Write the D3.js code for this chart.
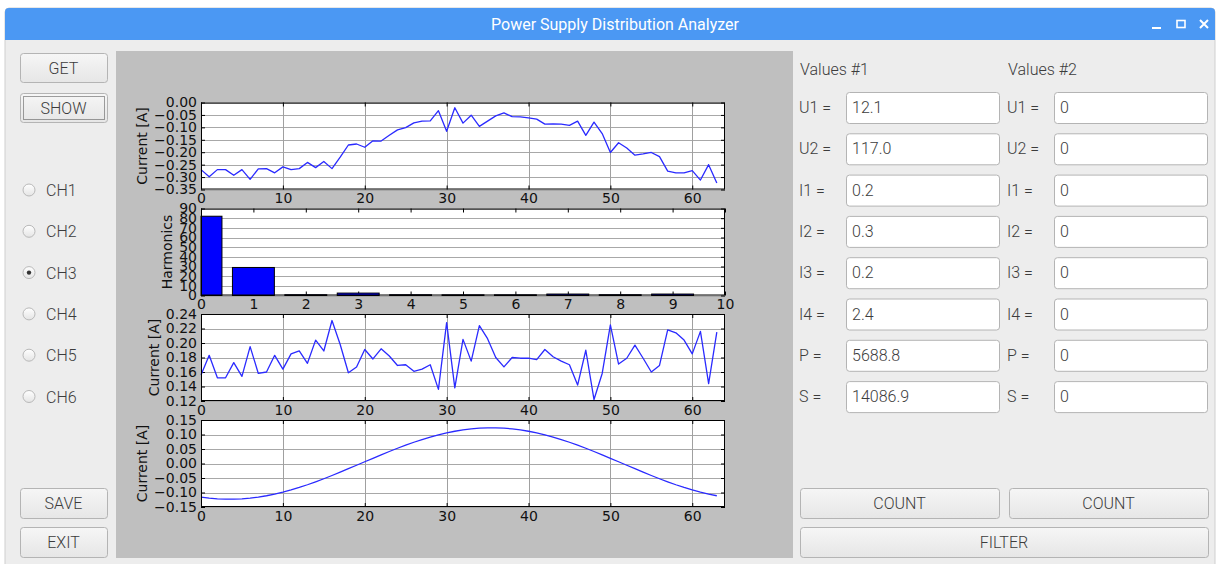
<!DOCTYPE html>
<html>
<head>
<meta charset="utf-8">
<script src="https://cdn.jsdelivr.net/npm/d3@7"></script>
<style>
body{margin:0;background:#fff;overflow:hidden}
.gui text{font-family:Roboto,"Open Sans",sans-serif;font-weight:300}
</style>
</head>
<body>
<div class="app"></div>
<script>
var width = 1217, height = 564;

// sample index of the measured waveforms
var samples = d3.range(64);
// top plot, current [A]
var currentA = [-0.270,-0.299,-0.270,-0.270,-0.293,-0.270,-0.309,-0.267,-0.266,-0.283,
	-0.259,-0.270,-0.266,-0.241,-0.262,-0.237,-0.266,-0.220,-0.171,-0.167,
	-0.180,-0.154,-0.155,-0.132,-0.110,-0.101,-0.082,-0.075,-0.074,-0.033,
	-0.116,-0.021,-0.083,-0.051,-0.096,-0.075,-0.054,-0.042,-0.057,-0.058,
	-0.062,-0.067,-0.087,-0.086,-0.087,-0.092,-0.075,-0.132,-0.079,-0.125,
	-0.201,-0.162,-0.183,-0.212,-0.207,-0.201,-0.218,-0.276,-0.283,-0.283,
	-0.274,-0.312,-0.250,-0.324];
// harmonics bars
var harmonicOrder = [0,1,2,3,4,5,6,7,8,9];
var harmonics = [82,29,0.8,2.5,0.8,0.7,0.7,1.5,0.8,1.5];
// third plot, current [A]
var currentB = [0.156,0.183,0.152,0.152,0.173,0.154,0.195,0.158,0.160,0.183,
	0.164,0.185,0.189,0.172,0.204,0.189,0.231,0.198,0.159,0.167,
	0.191,0.178,0.192,0.182,0.169,0.170,0.161,0.164,0.170,0.136,
	0.228,0.138,0.205,0.175,0.224,0.206,0.180,0.167,0.180,0.179,
	0.179,0.177,0.191,0.181,0.175,0.170,0.142,0.190,0.122,0.158,
	0.225,0.171,0.179,0.197,0.179,0.160,0.169,0.218,0.214,0.204,
	0.185,0.216,0.144,0.215];
// bottom plot, filtered current [A]
var currentC = [-0.1158,-0.1193,-0.1217,-0.1229,-0.1229,-0.1217,-0.1193,-0.1158,-0.1112,-0.1055,
	-0.0988,-0.0911,-0.0826,-0.0733,-0.0632,-0.0526,-0.0414,-0.0299,-0.0180,-0.0060,
	0.0060,0.0180,0.0299,0.0414,0.0526,0.0632,0.0733,0.0826,0.0911,0.0988,
	0.1055,0.1112,0.1158,0.1193,0.1217,0.1229,0.1229,0.1217,0.1193,0.1158,
	0.1112,0.1055,0.0988,0.0911,0.0826,0.0733,0.0632,0.0526,0.0414,0.0299,
	0.0180,0.0060,-0.0060,-0.0180,-0.0299,-0.0414,-0.0526,-0.0632,-0.0733,-0.0826,
	-0.0911,-0.0988,-0.1055,-0.1112];

// tick values
var sampleTicks = [0,10,20,30,40,50,60];
var harmonicTicks = [0,1,2,3,4,5,6,7,8,9,10];
var yTicksA = [0,-0.05,-0.10,-0.15,-0.20,-0.25,-0.30,-0.35];
var yTicksH = [0,10,20,30,40,50,60,70,80,90];
var yTicksB = [0.12,0.14,0.16,0.18,0.20,0.22,0.24];
var yTicksC = [-0.15,-0.10,-0.05,0,0.05,0.10,0.15];

// right panel
var valueNames = ["U1 =","U2 =","I1 =","I2 =","I3 =","I4 =","P =","S ="];
var values1 = ["12.1","117.0","0.2","0.3","0.2","2.4","5688.8","14086.9"];
var values2 = ["0","0","0","0","0","0","0","0"];
var channels = ["CH1","CH2","CH3","CH4","CH5","CH6"];
var selected = "CH3";

var svg = d3.select(".app").append("svg").attr("width", width).attr("height", height);
var defs = svg.append("defs");
var bg = defs.append("linearGradient").attr("id","btn").attr("x1",0).attr("y1",0).attr("x2",0).attr("y2",1);
bg.append("stop").attr("offset","0").attr("stop-color","#f6f6f6");
bg.append("stop").attr("offset","1").attr("stop-color","#e6e6e6");
var rg = defs.append("linearGradient").attr("id","radio").attr("x1",0).attr("y1",0).attr("x2",0).attr("y2",1);
rg.append("stop").attr("offset","0").attr("stop-color","#ffffff");
rg.append("stop").attr("offset","1").attr("stop-color","#e4e4e4");

var gui = svg.append("g").attr("class","gui");

// window
gui.append("rect").attr("x",5).attr("y",8).attr("width",1210).attr("height",570).attr("rx",4).attr("fill","#ededed").attr("stroke","#cfcfcf");
gui.append("path").attr("d","M5,40 V12 Q5,8 9,8 H1211 Q1215,8 1215,12 V40 Z").attr("fill","#4b98f3");
gui.append("text").attr("x",615).attr("y",30).attr("text-anchor","middle").attr("font-size",16).attr("fill","#fff").style("font-weight",400).text("Power Supply Distribution Analyzer");
gui.append("line").attr("x1",1152).attr("x2",1161).attr("y1",28).attr("y2",28).attr("stroke","#fff").attr("stroke-width",2);
gui.append("rect").attr("x",1177).attr("y",20.5).attr("width",8).attr("height",7).attr("fill","none").attr("stroke","#fff").attr("stroke-width",1.6);
gui.append("path").attr("d","M1200,20 L1208,28 M1208,20 L1200,28").attr("stroke","#fff").attr("stroke-width",2);

function button(x, y, w, h, label, focus) {
	gui.append("rect").attr("x",x+0.5).attr("y",y+0.5).attr("width",w).attr("height",h).attr("rx",3)
		.attr("fill","url(#btn)").attr("stroke","#b4b4b4");
	if (focus) {
		gui.append("rect").attr("x",x+3.5).attr("y",y+3.5).attr("width",w-6).attr("height",h-6)
			.attr("fill","none").attr("stroke","#444").attr("stroke-dasharray","1,1");
	}
	gui.append("text").attr("x",x+w/2).attr("y",y+h/2+6).attr("text-anchor","middle")
		.attr("font-size",16).attr("fill","#3c3c3c").text(label);
}
button(20,53,87,29,"GET",false);
button(20,93,87,29,"SHOW",true);
button(20,488,87,30,"SAVE",false);
button(20,527,87,30,"EXIT",false);
button(800,488,199,30,"COUNT",false);
button(1009,488,199,30,"COUNT",false);
button(800,527,408,30,"FILTER",false);

var radios = gui.selectAll("g.radio").data(channels).enter().append("g").attr("class","radio")
	.attr("transform", function(d,i){ return "translate(29," + (190 + i*41.3) + ")"; });
radios.append("circle").attr("r",6).attr("fill","url(#radio)").attr("stroke","#b9b9b9");
radios.filter(function(d){ return d == selected; }).append("circle").attr("r",2.2).attr("fill","#333");
radios.append("text").attr("x",17).attr("y",6).attr("font-size",16).attr("fill","#3c3c3c").text(function(d){ return d; });

// value fields
function column(x0, title, vals) {
	gui.append("text").attr("x",x0).attr("y",75).attr("font-size",16).attr("fill","#3c3c3c").text(title);
	var rows = gui.selectAll(null).data(valueNames).enter().append("g")
		.attr("transform", function(d,i){ return "translate(" + x0 + "," + (92 + i*41.3) + ")"; });
	rows.append("text").attr("x",-1).attr("y",21).attr("font-size",16).attr("fill","#3c3c3c").text(function(d){ return d; });
	rows.append("rect").attr("x",46.5).attr("y",0.5).attr("width",153).attr("height",31).attr("rx",3)
		.attr("fill","#fff").attr("stroke","#b4b4b4");
	rows.append("text").attr("x",52).attr("y",21).attr("font-size",16).attr("fill","#3c3c3c").text(function(d,i){ return vals[i]; });
}
column(800,"Values #1",values1);
column(1008,"Values #2",values2);

// matplotlib figure
svg.append("rect").attr("x",116).attr("y",51).attr("width",677).attr("height",507).attr("fill","#bfbfbf");

var plotLeft = 201, plotRight = 725, plotH = 87;

function plot(top, xMax, xTicks, yDom, yTicks, fmt, label, vgrid) {
	var x = d3.scaleLinear().domain([0, xMax]).range([plotLeft, plotRight]);
	var y = d3.scaleLinear().domain(yDom).range([top + plotH, top]);
	var g = svg.append("g");
	g.append("rect").attr("x",plotLeft).attr("y",top).attr("width",plotRight-plotLeft).attr("height",plotH).attr("fill","#fff");
	// grid
	g.selectAll(null).data(yTicks).enter().append("line")
		.attr("x1",plotLeft).attr("x2",plotRight).attr("y1",function(d){ return Math.round(y(d))+0.5; }).attr("y2",function(d){ return Math.round(y(d))+0.5; })
		.attr("stroke","#a8a8a8");
	if (vgrid) {
		g.selectAll(null).data(xTicks).enter().append("line")
			.attr("y1",top).attr("y2",top+plotH).attr("x1",function(d){ return Math.round(x(d))+0.5; }).attr("x2",function(d){ return Math.round(x(d))+0.5; })
			.attr("stroke","#a0a0a0");
	}
	var ax = [
		g.append("g").attr("transform","translate(0,"+(top+plotH)+")").call(d3.axisBottom(x).tickValues(xTicks).tickSizeInner(-4).tickSizeOuter(0).tickPadding(4).tickFormat(d3.format("d"))),
		g.append("g").attr("transform","translate(0,"+top+")").call(d3.axisTop(x).tickValues(xTicks).tickSizeInner(-4).tickSizeOuter(0).tickFormat("")),
		g.append("g").attr("transform","translate("+plotLeft+",0)").call(d3.axisLeft(y).tickValues(yTicks).tickSizeInner(-4).tickSizeOuter(0).tickPadding(4).tickFormat(fmt)),
		g.append("g").attr("transform","translate("+plotRight+",0)").call(d3.axisRight(y).tickValues(yTicks).tickSizeInner(-4).tickSizeOuter(0).tickFormat(""))
	];
	ax.forEach(function(a){
		a.attr("font-family","DejaVu Sans").attr("font-size",14);
		a.select(".domain").remove();
		a.selectAll("line").attr("stroke","#000");
		a.selectAll("text").attr("fill","#111");
	});
	var minX = d3.min(ax[2].selectAll("text").nodes(), function(n){ var b = n.getBBox(); return plotLeft + b.x; });
	svg.append("text").attr("transform","translate("+(minX-7)+","+(top+plotH/2)+") rotate(-90)")
		.attr("text-anchor","middle").attr("font-family","DejaVu Sans").attr("font-size",14).attr("fill","#111").text(label);
	return {g:g, x:x, y:y, top:top};
}

function frame(p) {
	p.g.append("rect").attr("x",plotLeft+0.5).attr("y",p.top+0.5).attr("width",plotRight-plotLeft-1).attr("height",plotH-1)
		.attr("fill","none").attr("stroke","#000");
}

function trace(p, vals) {
	p.g.append("path").datum(vals).attr("fill","none").attr("stroke","#2a2aff").attr("stroke-width",1.3)
		.attr("stroke-linejoin","round")
		.attr("d", d3.line().x(function(d,i){ return p.x(samples[i]); }).y(function(d){ return p.y(d); }));
}

var f2 = d3.format(".2f");

var p1 = plot(102.5, 64, sampleTicks, [-0.35, 0], yTicksA, f2, "Current [A]", true);
trace(p1, currentA);
frame(p1);

var p2 = plot(208.5, 10, harmonicTicks, [0, 90], yTicksH, d3.format("d"), "Harmonics", false);
p2.g.append("g").selectAll("rect").data(harmonics).enter().append("rect")
	.attr("x", function(d,i){ return p2.x(Math.max(0, harmonicOrder[i]-0.4)); })
	.attr("width", function(d,i){ return p2.x(harmonicOrder[i]+0.4) - p2.x(Math.max(0, harmonicOrder[i]-0.4)); })
	.attr("y", function(d){ return p2.y(d); })
	.attr("height", function(d){ return p2.y(0) - p2.y(d); })
	.attr("fill","#0000ff").attr("stroke","#000").attr("stroke-width",1);
frame(p2);

var p3 = plot(314, 64, sampleTicks, [0.12, 0.24], yTicksB, f2, "Current [A]", true);
trace(p3, currentB);
frame(p3);

var p4 = plot(420, 64, sampleTicks, [-0.15, 0.15], yTicksC, f2, "Current [A]", true);
trace(p4, currentC);
frame(p4);
</script>
</body>
</html>
